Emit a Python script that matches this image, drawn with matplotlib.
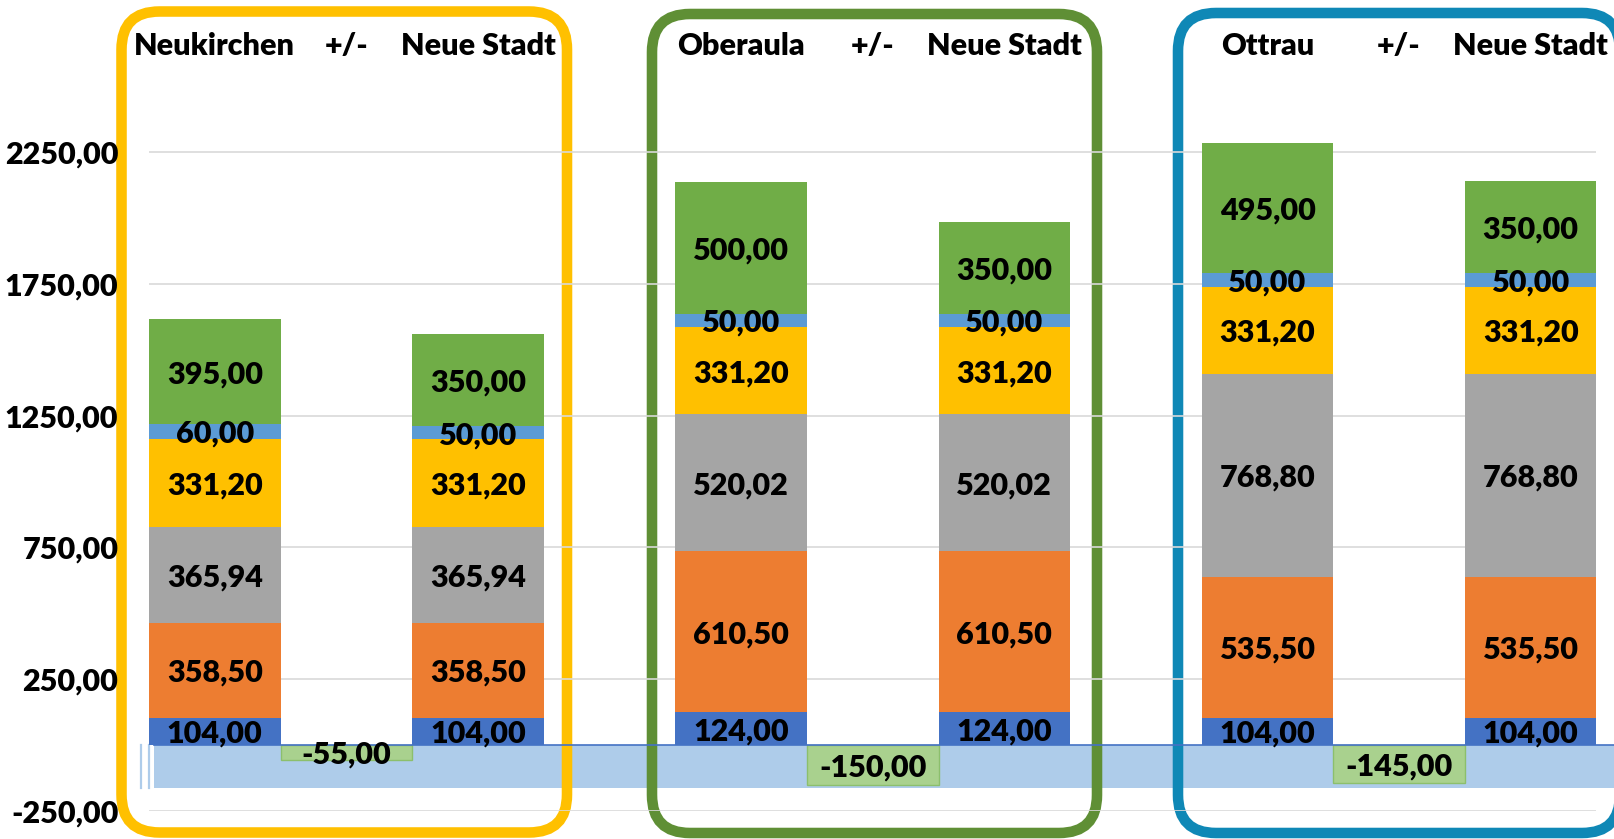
import matplotlib
matplotlib.use("Agg")
import matplotlib.pyplot as plt
from matplotlib.patches import FancyBboxPatch, Rectangle
from matplotlib.transforms import Affine2D

plt.rcParams['font.family'] = ['Lato', 'DejaVu Sans']
plt.rcParams['font.weight'] = 'heavy'

# ----------------------------
# data
# ----------------------------
groups = ["Neukirchen", "Oberaula", "Ottrau"]
compare_name = "Neue Stadt"
diff_name = "+/-"

# stacked bars: [group1, neue1, group2, neue2, group3, neue3]
seg_blue = [104.00, 104.00, 124.00, 124.00, 104.00, 104.00]
seg_orange = [358.50, 358.50, 610.50, 610.50, 535.50, 535.50]
seg_gray = [365.94, 365.94, 520.02, 520.02, 768.80, 768.80]
seg_yellow = [331.20, 331.20, 331.20, 331.20, 331.20, 331.20]
seg_lightblue = [60.00, 50.00, 50.00, 50.00, 50.00, 50.00]
seg_green = [395.00, 350.00, 500.00, 350.00, 495.00, 350.00]

diffs = [-55.00, -150.00, -145.00]

yticks = [-250, 250, 750, 1250, 1750, 2250]

segments = [seg_blue, seg_orange, seg_gray, seg_yellow, seg_lightblue, seg_green]
seg_colors = ["#4472C4", "#ED7D31", "#A5A5A5", "#FFC000", "#5B9BD5", "#70AD47"]
box_colors = ["#FFC000", "#5F8F35", "#0F88B6"]

FS = 22
W, H = 1614, 839


def fmt(v):
    return f"{v:.2f}".replace(".", ",")


fig = plt.figure(figsize=(W / 100, H / 100), dpi=100)
ax = fig.add_axes([149 / W, (H - 811) / H, 1447.5 / W, (811 - 20.2) / H])

# positions: 3 slots per group, one empty slot between groups
bar_x = []
diff_x = []
for g in range(len(groups)):
    base = g * 4
    bar_x += [base, base + 2]
    diff_x.append(base + 1)

# background band below zero + zero line
ax.add_patch(Rectangle((-0.462, -163), 11.3, 163, color="#AECCEA", lw=0,
                       zorder=0.5, clip_on=False))
for xs in (-0.563, -0.5):
    ax.plot([xs, xs], [-163, 0], color="#AECCEA", lw=1.6, zorder=0.5, clip_on=False)
ax.plot([-0.462, 10.8], [0, 0], color="#4472C4", lw=1.2, zorder=3, clip_on=False)

# rounded frames around each group (pixel coordinates)
# near-transparent face keeps Agg from clipping the outline at the canvas edge
px = Affine2D().scale(1 / W, 1 / H) + fig.transFigure
frames = [(121.5, 567, 11.5, 832.5), (652, 1097, 14, 833), (1178, 1620, 13, 833)]
for (l, r, t, b), c in zip(frames, box_colors):
    ax.add_patch(FancyBboxPatch((l, H - b), r - l, b - t,
                                boxstyle="round,pad=0,rounding_size=38",
                                fc=(1, 1, 1, 0.001), ec=c, lw=7.6, transform=px,
                                clip_on=False, zorder=1))

# gridlines
for y in yticks:
    ax.axhline(y, color="#D9D9D9", lw=1.2, zorder=1.5)

# stacked bars
bottom = [0.0] * len(bar_x)
for vals, col in zip(segments, seg_colors):
    ax.bar(bar_x, vals, width=1.0, bottom=bottom, color=col, lw=0, zorder=2)
    for x, b, v in zip(bar_x, bottom, vals):
        ax.text(x, b + v / 2, fmt(v), ha="center", va="center_baseline",
                fontsize=FS, color="black", zorder=4)
    bottom = [b + v for b, v in zip(bottom, vals)]

# difference bars
ax.bar(diff_x, diffs, width=1.0, color="#A9D18E", edgecolor="#8CBF6C",
       lw=1, zorder=2)
for x, v in zip(diff_x, diffs):
    ax.text(x, v / 2, fmt(v), ha="center", va="center_baseline",
            fontsize=FS, color="black", zorder=4)

# headers
for g, name in enumerate(groups):
    base = g * 4
    for x, t in zip([base, base + 1, base + 2], [name, diff_name, compare_name]):
        ax.text(x, 2663, t, ha="center", va="center_baseline", fontsize=FS,
                color="black", zorder=4)

ax.set_xlim(-0.5, 10.5)
ax.set_ylim(-250, 2750)
ax.set_yticks(yticks)
ax.set_yticklabels([fmt(v) for v in yticks], fontsize=FS)
ax.set_xticks([])
ax.tick_params(axis="y", length=0, pad=22)
for s in ax.spines.values():
    s.set_visible(False)

fig.savefig("out.png", dpi=100)
